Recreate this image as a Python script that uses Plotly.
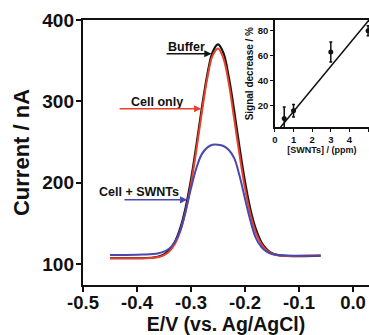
import plotly.graph_objects as go

# ---- main chart data ----
E_V = [-0.45, -0.42, -0.39, -0.37, -0.36, -0.35, -0.34, -0.33, -0.32, -0.31, -0.30,
       -0.29, -0.28, -0.27, -0.26, -0.25, -0.24, -0.23, -0.22, -0.21, -0.20, -0.19,
       -0.18, -0.17, -0.16, -0.15, -0.14, -0.13, -0.11, -0.09, -0.06]
buffer_nA = [107, 107, 107.1, 107.8, 109.0, 111.6, 117.0, 126.9, 143.6, 169.1, 203.8,
             246.1, 291.4, 332.2, 360.5, 370, 359.5, 329.5, 288, 242.5, 201, 167,
             143, 127, 118, 113, 111, 110, 109.5, 109.5, 110]
cell_only_nA = [107, 107, 107, 107.6, 108.5, 110.7, 115.4, 124.3, 139.9, 164.2, 198.4,
                240.6, 286.3, 327.7, 356.1, 365, 352.8, 322, 278, 233.6, 192.8, 161,
                138.6, 124.6, 116.7, 112.6, 110.7, 110, 109.8, 110, 110.5]
cell_swnts_nA = [111, 111, 111.5, 112, 113, 115, 119, 127, 141, 165, 193,
                 218, 235, 243, 246.5, 246.5, 245, 240, 230, 208, 180, 153,
                 132, 121, 115, 112, 111, 110.5, 110, 110, 110]

# ---- inset data ----
swnt_ppm = [0.5, 1, 3, 5]
signal_decrease = [10, 16, 63, 80]
signal_err = [9, 5, 8, 4]
fit_slope = 18.05
fit_intercept = -2.57
fit_x = [0.3, 5.05]
fit_y = [fit_slope * v + fit_intercept for v in fit_x]

FONT = "Liberation Sans, Arial, sans-serif"
INK = "#111"

fig = go.Figure()
fig.add_trace(go.Scatter(x=E_V, y=buffer_nA, mode="lines", line=dict(color="#151515", width=2.2, shape="spline"),
                         name="Buffer"))
fig.add_trace(go.Scatter(x=E_V, y=cell_only_nA, mode="lines", line=dict(color="#e8402a", width=2.0, shape="spline"),
                         name="Cell only"))
fig.add_trace(go.Scatter(x=E_V, y=cell_swnts_nA, mode="lines", line=dict(color="#4848b0", width=2.0, shape="spline"),
                         name="Cell + SWNTs"))

# inset
fig.add_trace(go.Scatter(x=fit_x, y=fit_y, mode="lines", line=dict(color=INK, width=1.5),
                         xaxis="x2", yaxis="y2", cliponaxis=True))
fig.add_trace(go.Scatter(x=swnt_ppm, y=signal_decrease, mode="markers",
                         marker=dict(color=INK, size=5),
                         error_y=dict(type="data", array=signal_err, color=INK, thickness=1.5, width=1.5),
                         xaxis="x2", yaxis="y2", cliponaxis=False))

fig.update_layout(
    width=369, height=335,
    margin=dict(l=83, r=0, t=20, b=50, autoexpand=False),
    paper_bgcolor="white", plot_bgcolor="white",
    showlegend=False,
    font=dict(family=FONT, color=INK),
    xaxis=dict(range=[-0.5, 0.0296], domain=[0, 1], tickvals=[-0.5, -0.4, -0.3, -0.2, -0.1, 0.0],
               ticktext=["-0.5", "-0.4", "-0.3", "-0.2", "-0.1", "0.0"], automargin=False,
               showline=True, linecolor=INK, linewidth=2.4, mirror=True,
               ticks="outside", ticklen=5, tickwidth=2, tickcolor=INK, ticklabelstandoff=-5,
               showgrid=False, zeroline=False,
               tickfont=dict(size=18.5, family=FONT, color=INK, weight="bold"),
               title=dict(text="<b>E/V (vs. Ag/AgCl)</b>", font=dict(size=19.5, family=FONT, color=INK), standoff=2)),
    yaxis=dict(range=[74, 400], domain=[0, 1], tickvals=[100, 200, 300, 400], automargin=False,
               showline=True, linecolor=INK, linewidth=2.4, mirror=False,
               ticks="outside", ticklen=5, tickwidth=2, tickcolor=INK, ticklabelstandoff=-2,
               showgrid=False, zeroline=False,
               tickfont=dict(size=19, family=FONT, color=INK, weight="bold"),
               title=dict(text="<b>Current / nA</b>", font=dict(size=22, family=FONT, color=INK), standoff=7)),
    xaxis2=dict(domain=[0.671, 1.0], anchor="y2", range=[0, 5.05], tickvals=[0, 1, 2, 3, 4, 5], automargin=False,
                showline=True, linecolor=INK, linewidth=1.5,
                ticks="outside", ticklen=3, tickwidth=1.2, tickcolor=INK,
                showgrid=False, zeroline=False,
                tickfont=dict(size=9.5, family=FONT, color=INK, weight="bold"),
                title=dict(text="<b>[SWNTs] / (ppm)</b>", font=dict(size=9, family=FONT, color=INK), standoff=1)),
    yaxis2=dict(domain=[0.595, 1.0], anchor="x2", range=[2.85, 88.6], tickvals=[20, 40, 60, 80], automargin=False,
                showline=True, linecolor=INK, linewidth=1.5,
                ticks="outside", ticklen=3, tickwidth=1.2, tickcolor=INK,
                showgrid=False, zeroline=False,
                tickfont=dict(size=9.5, family=FONT, color=INK, weight="bold"),
                title=dict(text="<b>Signal decrease / %</b>", font=dict(size=10, family=FONT, color=INK), standoff=2)),
)

# labels and arrows
labels = [
    ("Buffer", -0.3083, 367, -0.348, -0.262, 358.5, "#151515"),
    ("Cell only", -0.363, 299.4, -0.435, -0.281, 290.8, "#e8402a"),
    ("Cell + SWNTs", -0.397, 188.6, -0.426, -0.307, 178.8, "#4848b0"),
]
for txt, tx, ty, x0, x1, ay, col in labels:
    fig.add_annotation(x=tx, y=ty, xref="x", yref="y", text="<b>%s</b>" % txt, showarrow=False,
                       font=dict(size=12.5, family=FONT, color=INK))
    fig.add_annotation(x=x1, y=ay, ax=x0, ay=ay, xref="x", yref="y", axref="x", ayref="y", text="",
                       showarrow=True, arrowhead=2, arrowsize=0.9, arrowwidth=1.6, arrowcolor=col)

fig.write_html("out.html", config={"displayModeBar": False},
               post_script="document.body.style.margin='0px';document.body.style.overflow='hidden';")
